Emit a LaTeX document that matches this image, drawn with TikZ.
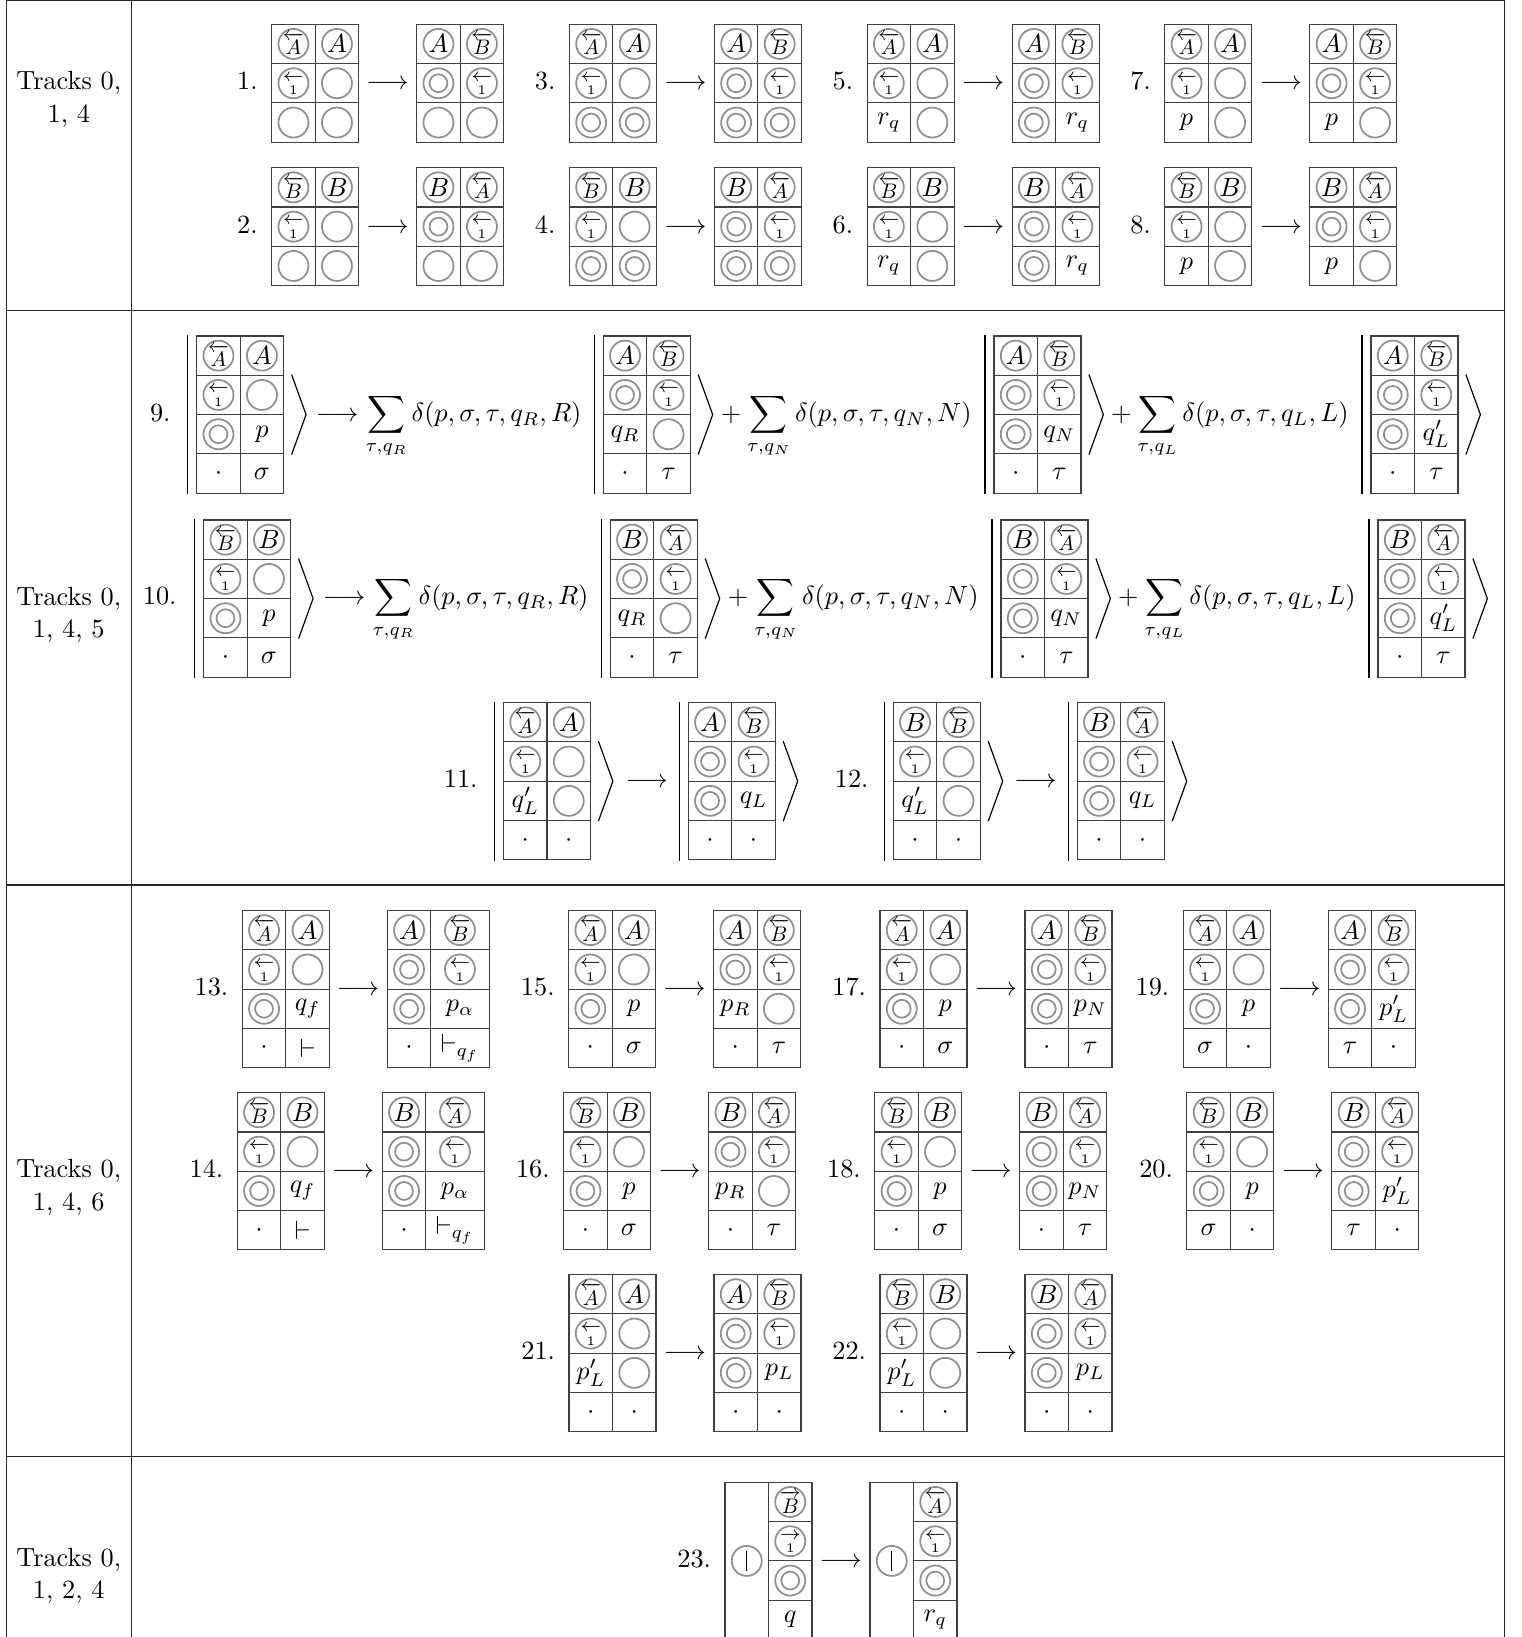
\documentclass[tikz,border=0pt]{standalone}
\usepackage{amsmath}
\usepackage{graphicx}
\definecolor{ringc}{gray}{0.56}
\definecolor{gridc}{gray}{0.25}
\definecolor{tabc}{gray}{0.15}
\newcommand\lone{\overset{\leftarrow}{\scriptscriptstyle 1}}
\newcommand\rone{\overset{\rightarrow}{\scriptscriptstyle 1}}
\newcommand\lA{\scalebox{0.8}{$\overleftarrow{A}$}}
\newcommand\lB{\scalebox{0.8}{$\overleftarrow{B}$}}
\newcommand\rB{\scalebox{0.8}{$\overrightarrow{B}$}}
\newcommand\gset[4]{\def\gname{#1}\def\gx{#2}\def\gy{#3}\def\gw{#4}}
\newcommand\cel[4]{%
 \pgfmathsetmacro\cx{\gx + ((#2==1) ? 21.75 : (43.5 + \gw/2))}%
 \pgfmathsetmacro\cy{\gy + (#1-0.5)*39.3}%
 \pgfmathsetmacro\cw{((#2==1) ? 43.5 : \gw)*0.38}%
 \node[cellbox,#3,minimum width=\cw pt] (\gname-#1-#2) at (\cx,\cy) {\ensuremath{#4}};}
\newcommand\rr[5]{\cel{#1}1{#2}{#3}\cel{#1}2{#4}{#5}}
\newcommand\rLA[1]{\rr{#1}{ring}{\lA}{ring}{A}}
\newcommand\rAB[1]{\rr{#1}{ring}{A}{ring}{\lB}}
\newcommand\rLB[1]{\rr{#1}{ring}{\lB}{ring}{B}}
\newcommand\rBA[1]{\rr{#1}{ring}{B}{ring}{\lA}}
\newcommand\rOneO[1]{\rr{#1}{ring}{\lone}{ring}{}}
\newcommand\rOOone[1]{\rr{#1}{dring}{}{ring}{\lone}}
\newcommand\rDots[1]{\rr{#1}{txt}{\cdot}{txt}{\cdot}}
% label + arrow of a rule: #1 id, #2 grid-left x, #3 centre y
\newcommand\tail[3]{%
 \node[lbl,anchor=base east] (lab#1) at (#2-13.5,#3+6.6) {#1.};
 \node[lbl,anchor=base] (arr#1) at (#2+115.8,#3+6.6) {$\longrightarrow$};}
% ket bar and angle around a 4-row grid
\newcommand\kt[1]{%
 \draw[ketl] ([xshift=-3.4pt,yshift=0.4pt]#1-1-1.north west) -- ([xshift=-3.4pt,yshift=-0.4pt]#1-4-1.south west);
 \draw[ketl,line join=miter] ([xshift=3.0pt,yshift=15.2pt]#1-2-2.south east) -- ([xshift=8.5pt]#1-2-2.south east) -- ([xshift=3.0pt,yshift=-15.2pt]#1-2-2.south east);}
\begin{document}
\begin{tikzpicture}[x=0.38pt,y=-0.38pt,
 cellbox/.style={draw=gridc,line width=0.42pt,minimum height=14.93pt,inner sep=0pt,outer sep=0pt,anchor=center},
 ring/.style={path picture={\draw[ringc,line width=0.66pt] (path picture bounding box.center) circle[radius=5.7pt];}},
 dring/.style={path picture={\draw[ringc,line width=0.66pt] (path picture bounding box.center) circle[radius=5.7pt] circle[radius=3.4pt];}},
 barring/.style={path picture={\draw[ringc,line width=0.66pt] (path picture bounding box.center) circle[radius=5.7pt];
   \draw[black,line width=0.4pt] ([yshift=-3.8pt]path picture bounding box.center) -- ([yshift=3.8pt]path picture bounding box.center);}},
 txt/.style={},
 lbl/.style={inner sep=0pt},
 ketl/.style={black,line width=0.45pt},
 tab/.style={tabc,line width=0.5pt}]
\useasboundingbox (0,0) rectangle (1521,1637);
% table frame
\draw[tab] (6.3,0) -- (6.3,1637);
\draw[tab] (131.3,0) -- (131.3,1637);
\draw[tab] (1504.3,0) -- (1504.3,1637);
\draw[tab] (6.3,0.7) -- (1504.3,0.7);
\draw[tab] (6.3,310.5) -- (1504.3,310.5);
\draw[tab] (6.3,885) -- (1504.3,885);
\draw[tab] (6.3,1456.7) -- (1504.3,1456.7);
% track labels
\node[lbl,anchor=base] (t1a) at (68.8,90) {Tracks 0,};
\node[lbl,anchor=base] (t1b) at (68.8,122.7) {1, 4};
\node[lbl,anchor=base] (t2a) at (68.8,605) {Tracks 0,};
\node[lbl,anchor=base] (t2b) at (68.8,637.5) {1, 4, 5};
\node[lbl,anchor=base] (t3a) at (68.8,1177.3) {Tracks 0,};
\node[lbl,anchor=base] (t3b) at (68.8,1210) {1, 4, 6};
\node[lbl,anchor=base] (t4a) at (68.8,1566) {Tracks 0,};
\node[lbl,anchor=base] (t4b) at (68.8,1598.5) {1, 2, 4};
% ---------- rules 1-8
\tail{1}{271.7}{83.25}
\gset{g1a}{271.7}{24.3}{43.5}\rLA1\rOneO2\rr3{ring}{}{ring}{}
\gset{g1b}{416.7}{24.3}{43.5}\rAB1\rOOone2\rr3{ring}{}{ring}{}
\tail{3}{569.4}{83.25}
\gset{g3a}{569.4}{24.3}{43.5}\rLA1\rOneO2\rr3{dring}{}{dring}{}
\gset{g3b}{714.4}{24.3}{43.5}\rAB1\rOOone2\rr3{dring}{}{dring}{}
\tail{5}{867.1}{83.25}
\gset{g5a}{867.1}{24.3}{43.5}\rLA1\rOneO2\rr3{txt}{r_q}{ring}{}
\gset{g5b}{1012.1}{24.3}{43.5}\rAB1\rOOone2\rr3{dring}{}{txt}{r_q}
\tail{7}{1164.8}{83.25}
\gset{g7a}{1164.8}{24.3}{43.5}\rLA1\rOneO2\rr3{txt}{p}{ring}{}
\gset{g7b}{1309.8}{24.3}{43.5}\rAB1\rOOone2\rr3{txt}{p}{ring}{}
\tail{2}{271.7}{226.65}
\gset{g2a}{271.7}{167.7}{43.5}\rLB1\rOneO2\rr3{ring}{}{ring}{}
\gset{g2b}{416.7}{167.7}{43.5}\rBA1\rOOone2\rr3{ring}{}{ring}{}
\tail{4}{569.4}{226.65}
\gset{g4a}{569.4}{167.7}{43.5}\rLB1\rOneO2\rr3{dring}{}{dring}{}
\gset{g4b}{714.4}{167.7}{43.5}\rBA1\rOOone2\rr3{dring}{}{dring}{}
\tail{6}{867.1}{226.65}
\gset{g6a}{867.1}{167.7}{43.5}\rLB1\rOneO2\rr3{txt}{r_q}{ring}{}
\gset{g6b}{1012.1}{167.7}{43.5}\rBA1\rOOone2\rr3{dring}{}{txt}{r_q}
\tail{8}{1164.8}{226.65}
\gset{g8a}{1164.8}{167.7}{43.5}\rLB1\rOneO2\rr3{txt}{p}{ring}{}
\gset{g8b}{1309.8}{167.7}{43.5}\rBA1\rOOone2\rr3{txt}{p}{ring}{}
% ---------- rule 9
\node[lbl,anchor=base east] (lab9) at (171,421.3) {9.};
\gset{g9a}{196.7}{336}{43.5}\rLA1\rOneO2\rr3{dring}{}{txt}{p}\rr4{txt}{\cdot}{txt}{\sigma}\kt{g9a}
\node[lbl,anchor=base east] (r9e1) at (582,421.3) {$\displaystyle\longrightarrow\sum_{\tau,q_R}\delta(p,\sigma,\tau,q_R,R)$};
\gset{g9b}{603.3}{336}{43.5}\rAB1\rOOone2\rr3{txt}{q_R}{ring}{}\rr4{txt}{\cdot}{txt}{\tau}\kt{g9b}
\node[lbl,anchor=base east] (r9e2) at (972,421.3) {$\displaystyle{}+\sum_{\tau,q_N}\delta(p,\sigma,\tau,q_N,N)$};
\gset{g9c}{994}{336}{43.5}\rAB1\rOOone2\rr3{dring}{}{txt}{q_N}\rr4{txt}{\cdot}{txt}{\tau}\kt{g9c}
\node[lbl,anchor=base east] (r9e3) at (1349,421.3) {$\displaystyle{}+\sum_{\tau,q_L}\delta(p,\sigma,\tau,q_L,L)$};
\gset{g9d}{1371}{336}{43.5}\rAB1\rOOone2\rr3{dring}{}{txt}{q'_L}\rr4{txt}{\cdot}{txt}{\tau}\kt{g9d}
% ---------- rule 10
\node[lbl,anchor=base east] (lab10) at (177,604.9) {10.};
\gset{g10a}{203.7}{520}{43.5}\rLB1\rOneO2\rr3{dring}{}{txt}{p}\rr4{txt}{\cdot}{txt}{\sigma}\kt{g10a}
\node[lbl,anchor=base east] (r10e1) at (589,604.9) {$\displaystyle\longrightarrow\sum_{\tau,q_R}\delta(p,\sigma,\tau,q_R,R)$};
\gset{g10b}{610.3}{520}{43.5}\rBA1\rOOone2\rr3{txt}{q_R}{ring}{}\rr4{txt}{\cdot}{txt}{\tau}\kt{g10b}
\node[lbl,anchor=base east] (r10e2) at (979,604.9) {$\displaystyle{}+\sum_{\tau,q_N}\delta(p,\sigma,\tau,q_N,N)$};
\gset{g10c}{1001}{520}{43.5}\rBA1\rOOone2\rr3{dring}{}{txt}{q_N}\rr4{txt}{\cdot}{txt}{\tau}\kt{g10c}
\node[lbl,anchor=base east] (r10e3) at (1356,604.9) {$\displaystyle{}+\sum_{\tau,q_L}\delta(p,\sigma,\tau,q_L,L)$};
\gset{g10d}{1378}{520}{43.5}\rBA1\rOOone2\rr3{dring}{}{txt}{q'_L}\rr4{txt}{\cdot}{txt}{\tau}\kt{g10d}
% ---------- rules 11, 12
\node[lbl,anchor=base east] (lab11) at (478,787.8) {11.};
\gset{g11a}{503.5}{702.6}{43.5}\rLA1\rOneO2\rr3{txt}{q'_L}{ring}{}\rDots4\kt{g11a}
\node[lbl,anchor=base west] (r11arr) at (625,787.8) {$\longrightarrow$};
\gset{g11b}{688.3}{702.6}{43.5}\rAB1\rOOone2\rr3{dring}{}{txt}{q_L}\rDots4\kt{g11b}
\node[lbl,anchor=base east] (lab12) at (869,787.8) {12.};
\gset{g12a}{893.3}{702.6}{43.5}\rr1{ring}{B}{ring}{\lB}\rOneO2\rr3{txt}{q'_L}{ring}{}\rDots4\kt{g12a}
\node[lbl,anchor=base west] (r12arr) at (1013.5,787.8) {$\longrightarrow$};
\gset{g12b}{1077.3}{702.6}{43.5}\rBA1\rOOone2\rr3{dring}{}{txt}{q_L}\rDots4\kt{g12b}
% ---------- rules 13-22
\tail{13}{242.3}{989.1}
\gset{g13a}{242.3}{910.5}{43.5}\rLA1\rOneO2\rr3{dring}{}{txt}{q_f}\rr4{txt}{\cdot}{txt}{\vdash}
\gset{g13b}{387.3}{910.5}{58.3}\rAB1\rOOone2\rr3{dring}{}{txt}{p_\alpha}\rr4{txt}{\cdot}{txt}{\vdash_{q_f}}
\tail{15}{568.6}{989.1}
\gset{g15a}{568.6}{910.5}{43.5}\rLA1\rOneO2\rr3{dring}{}{txt}{p}\rr4{txt}{\cdot}{txt}{\sigma}
\gset{g15b}{713.6}{910.5}{43.5}\rAB1\rOOone2\rr3{txt}{p_R}{ring}{}\rr4{txt}{\cdot}{txt}{\tau}
\tail{17}{880}{989.1}
\gset{g17a}{880}{910.5}{43.5}\rLA1\rOneO2\rr3{dring}{}{txt}{p}\rr4{txt}{\cdot}{txt}{\sigma}
\gset{g17b}{1025}{910.5}{43.5}\rAB1\rOOone2\rr3{dring}{}{txt}{p_N}\rr4{txt}{\cdot}{txt}{\tau}
\tail{19}{1183.3}{989.1}
\gset{g19a}{1183.3}{910.5}{43.5}\rLA1\rOneO2\rr3{dring}{}{txt}{p}\rr4{txt}{\sigma}{txt}{\cdot}
\gset{g19b}{1328.3}{910.5}{43.5}\rAB1\rOOone2\rr3{dring}{}{txt}{p'_L}\rr4{txt}{\tau}{txt}{\cdot}
\tail{14}{237.3}{1171.3}
\gset{g14a}{237.3}{1092.7}{43.5}\rLB1\rOneO2\rr3{dring}{}{txt}{q_f}\rr4{txt}{\cdot}{txt}{\vdash}
\gset{g14b}{382.3}{1092.7}{58.3}\rBA1\rOOone2\rr3{dring}{}{txt}{p_\alpha}\rr4{txt}{\cdot}{txt}{\vdash_{q_f}}
\tail{16}{563.7}{1171.3}
\gset{g16a}{563.7}{1092.7}{43.5}\rLB1\rOneO2\rr3{dring}{}{txt}{p}\rr4{txt}{\cdot}{txt}{\sigma}
\gset{g16b}{708.7}{1092.7}{43.5}\rBA1\rOOone2\rr3{txt}{p_R}{ring}{}\rr4{txt}{\cdot}{txt}{\tau}
\tail{18}{874.8}{1171.3}
\gset{g18a}{874.8}{1092.7}{43.5}\rLB1\rOneO2\rr3{dring}{}{txt}{p}\rr4{txt}{\cdot}{txt}{\sigma}
\gset{g18b}{1019.8}{1092.7}{43.5}\rBA1\rOOone2\rr3{dring}{}{txt}{p_N}\rr4{txt}{\cdot}{txt}{\tau}
\tail{20}{1186.9}{1171.3}
\gset{g20a}{1186.9}{1092.7}{43.5}\rLB1\rOneO2\rr3{dring}{}{txt}{p}\rr4{txt}{\sigma}{txt}{\cdot}
\gset{g20b}{1331.9}{1092.7}{43.5}\rBA1\rOOone2\rr3{dring}{}{txt}{p'_L}\rr4{txt}{\tau}{txt}{\cdot}
\tail{21}{569}{1353.2}
\gset{g21a}{569}{1274.6}{43.5}\rLA1\rOneO2\rr3{txt}{p'_L}{ring}{}\rDots4
\gset{g21b}{714}{1274.6}{43.5}\rAB1\rOOone2\rr3{dring}{}{txt}{p_L}\rDots4
\tail{22}{880}{1353.2}
\gset{g22a}{880}{1274.6}{43.5}\rLB1\rOneO2\rr3{txt}{p'_L}{ring}{}\rDots4
\gset{g22b}{1025}{1274.6}{43.5}\rBA1\rOOone2\rr3{dring}{}{txt}{p_L}\rDots4
% ---------- rule 23
\tail{23}{725}{1560.9}
\node[cellbox,barring,minimum width=16.53pt,minimum height=59.72pt] (g23a-L) at (746.75,1560.9) {};
\gset{g23a}{725}{1482.3}{43.5}\cel12{ring}{\rB}\cel22{ring}{\rone}\cel32{dring}{}\cel42{txt}{q}
\node[cellbox,barring,minimum width=16.53pt,minimum height=59.72pt] (g23b-L) at (891.75,1560.9) {};
\gset{g23b}{870}{1482.3}{43.5}\cel12{ring}{\lA}\cel22{ring}{\lone}\cel32{dring}{}\cel42{txt}{r_q}
\end{tikzpicture}
\end{document}
